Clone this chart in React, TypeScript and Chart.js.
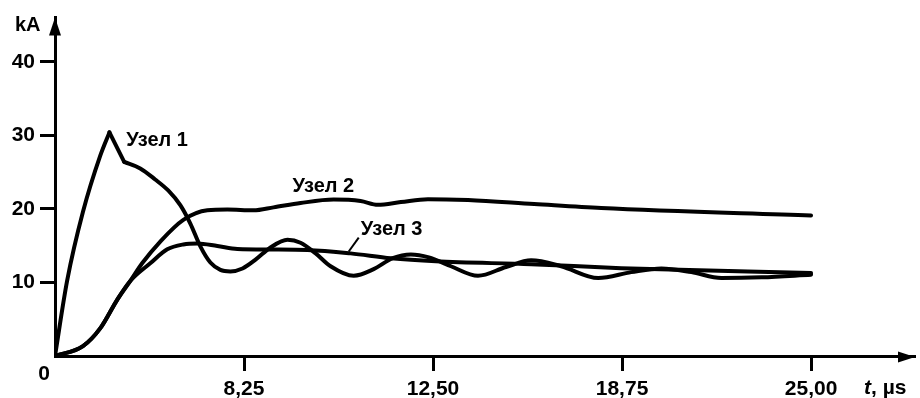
import React, { useEffect, useRef } from 'react';
import { Chart, registerables } from 'chart.js';

Chart.register(...registerables);

// Axis: one unit per labelled tick (the time scale of the original is not linear)
const xTickPositions = [1, 2, 3, 4];
const xTickLabels = ['8,25', '12,50', '18,75', '25,00'];
const yTickValues = [10, 20, 30, 40];
const xMax = 4.55;
const yMax = 46;

// Узел 1 (node 1) current, kA
const node1T = [0, 0.064, 0.148, 0.239, 0.288, 0.366, 0.451, 0.53, 0.599, 0.663, 0.716, 0.769, 0.822, 0.875, 0.928, 0.992, 1.061, 1.14, 1.23, 1.299, 1.379, 1.458, 1.58, 1.686, 1.787, 1.883, 1.978, 2.095, 2.238, 2.386, 2.519, 2.678, 2.874, 3.049, 3.208, 3.367, 3.526, 3.739, 4.0];
const node1I = [0, 10.2, 19.6, 27.2, 30.4, 26.4, 25.5, 24.0, 22.5, 20.5, 18.0, 14.9, 12.7, 11.7, 11.5, 11.9, 13.1, 14.75, 15.8, 15.4, 13.95, 12.2, 10.9, 11.8, 13.3, 13.8, 13.4, 12.2, 10.9, 12.1, 13.0, 12.2, 10.6, 11.4, 11.9, 11.4, 10.6, 10.7, 11.05];
const node1PeakIndex = 4;
const node1KinkIndex = 5;

// Узел 2 (node 2) current, kA
const node2T = [0, 0.148, 0.239, 0.329, 0.398, 0.461, 0.557, 0.679, 0.806, 0.912, 1.05, 1.156, 1.299, 1.474, 1.617, 1.708, 1.83, 1.973, 2.185, 2.535, 2.89, 4.0];
const node2I = [0, 1.34, 3.75, 7.64, 10.19, 12.6, 15.56, 18.5, 19.8, 19.9, 19.8, 20.2, 20.8, 21.26, 21.06, 20.55, 20.92, 21.32, 21.19, 20.65, 20.12, 19.1];

// Узел 3 (node 3) current, kA
const node3T = [0, 0.148, 0.239, 0.329, 0.398, 0.504, 0.594, 0.679, 0.753, 0.859, 0.965, 1.14, 1.336, 1.564, 1.777, 2.015, 2.519, 2.996, 4.0];
const node3I = [0, 1.34, 3.75, 7.64, 10.19, 12.6, 14.5, 15.16, 15.29, 14.95, 14.55, 14.48, 14.42, 13.95, 13.28, 12.87, 12.47, 11.94, 11.27];

// Curve labels: [text, t, kA] (left / baseline anchor)
const curveLabels: [string, number, number][] = [
  ['Узел 1', 0.377, 28.56],
  ['Узел 2', 1.257, 22.26],
  ['Узел 3', 1.618, 16.5],
];
const leader3: [number, number, number, number] = [1.607, 16.1, 1.554, 14.2];

const FONT = '"Liberation Sans", Arial, Helvetica, sans-serif';

const pts = (t: number[], v: number[], a = 0, b = t.length - 1) => {
  const out: { x: number; y: number }[] = [];
  for (let i = a; i <= b; i++) out.push({ x: t[i], y: v[i] });
  return out;
};

const lineStyle = {
  borderColor: '#000',
  borderWidth: 4,
  pointRadius: 0,
  fill: false,
  borderCapStyle: 'round' as const,
  borderJoinStyle: 'round' as const,
};

const decorPlugin = {
  id: 'decor',
  afterDraw(chart: any) {
    const { ctx, chartArea, scales } = chart;
    const xs = scales.x;
    const ys = scales.y;
    ctx.save();
    ctx.fillStyle = '#000';
    ctx.strokeStyle = '#000';
    // y arrow
    const ax = chartArea.left;
    const ay = chartArea.top;
    ctx.beginPath();
    ctx.moveTo(ax, ay);
    ctx.lineTo(ax - 6, ay + 18);
    ctx.lineTo(ax + 6, ay + 18);
    ctx.closePath();
    ctx.fill();
    // x arrow
    const bx = chartArea.right;
    const by = chartArea.bottom + 1;
    ctx.beginPath();
    ctx.moveTo(bx, by);
    ctx.lineTo(bx - 17, by - 5.5);
    ctx.lineTo(bx - 17, by + 5.5);
    ctx.closePath();
    ctx.fill();

    // axis texts
    ctx.font = `bold 20px ${FONT}`;
    ctx.textBaseline = 'alphabetic';
    ctx.textAlign = 'left';
    ctx.fillText('kA', 15, 31);
    ctx.font = `bold 21px ${FONT}`;
    ctx.textAlign = 'center';
    ctx.fillText('0', 44, 380);
    ctx.textAlign = 'left';
    ctx.font = `italic bold 21px ${FONT}`;
    ctx.fillText('t', 864, 394);
    const tw = ctx.measureText('t').width;
    ctx.font = `bold 21px ${FONT}`;
    ctx.fillText(', µs', 864 + tw, 394);

    // curve labels
    ctx.font = `bold 20px ${FONT}`;
    for (const [text, t, v] of curveLabels) {
      ctx.fillText(text, xs.getPixelForValue(t), ys.getPixelForValue(v));
    }
    ctx.lineWidth = 2;
    ctx.beginPath();
    ctx.moveTo(xs.getPixelForValue(leader3[0]), ys.getPixelForValue(leader3[1]));
    ctx.lineTo(xs.getPixelForValue(leader3[2]), ys.getPixelForValue(leader3[3]));
    ctx.stroke();
    ctx.restore();
  },
};

export default function App() {
  const ref = useRef<HTMLCanvasElement | null>(null);
  useEffect(() => {
    if (!ref.current) return;
    const chart = new Chart(ref.current, {
      type: 'line',
      data: {
        datasets: [
          { ...lineStyle, data: pts(node1T, node1I, 0, node1PeakIndex), cubicInterpolationMode: 'monotone' },
          { ...lineStyle, data: pts(node1T, node1I, node1PeakIndex, node1KinkIndex), tension: 0 },
          { ...lineStyle, data: pts(node1T, node1I, node1KinkIndex), cubicInterpolationMode: 'monotone' },
          { ...lineStyle, data: pts(node2T, node2I), cubicInterpolationMode: 'monotone' },
          { ...lineStyle, data: pts(node3T, node3I), cubicInterpolationMode: 'monotone' },
        ],
      },
      options: {
        animation: false,
        responsive: false,
        events: [],
        layout: { padding: { top: 13, right: 5, left: 0, bottom: 0 } },
        plugins: { legend: { display: false }, tooltip: { enabled: false } },
        scales: {
          x: {
            type: 'linear',
            min: 0,
            max: xMax,
            afterFit: (s: any) => { s.height = 42; },
            afterBuildTicks: (s: any) => { s.ticks = xTickPositions.map((v) => ({ value: v })); },
            ticks: {
              callback: (_v: any, i: number) => xTickLabels[i],
              font: { family: FONT, size: 21, weight: 'bold' },
              color: '#000',
              padding: 6,
              maxRotation: 0,
              autoSkip: false,
            },
            grid: { drawOnChartArea: false, drawTicks: true, tickLength: 15, tickWidth: 3, tickColor: '#000' },
            border: { display: true, color: '#000', width: 3 },
          },
          y: {
            type: 'linear',
            min: 0,
            max: yMax,
            afterFit: (s: any) => { s.width = 55; },
            afterBuildTicks: (s: any) => { s.ticks = yTickValues.map((v) => ({ value: v })); },
            ticks: {
              font: { family: FONT, size: 21, weight: 'bold' },
              color: '#000',
              padding: 5,
            },
            grid: { drawOnChartArea: false, drawTicks: true, tickLength: 15, tickWidth: 3, tickColor: '#000' },
            border: { display: true, color: '#000', width: 3 },
          },
        },
      },
      plugins: [decorPlugin],
    });
    return () => chart.destroy();
  }, []);
  return (
    <div style={{ position: 'absolute', left: 0, top: 0, width: 920, height: 398, background: '#fff' }}>
      <canvas ref={ref} width={920} height={398} style={{ display: 'block' }} />
    </div>
  );
}
